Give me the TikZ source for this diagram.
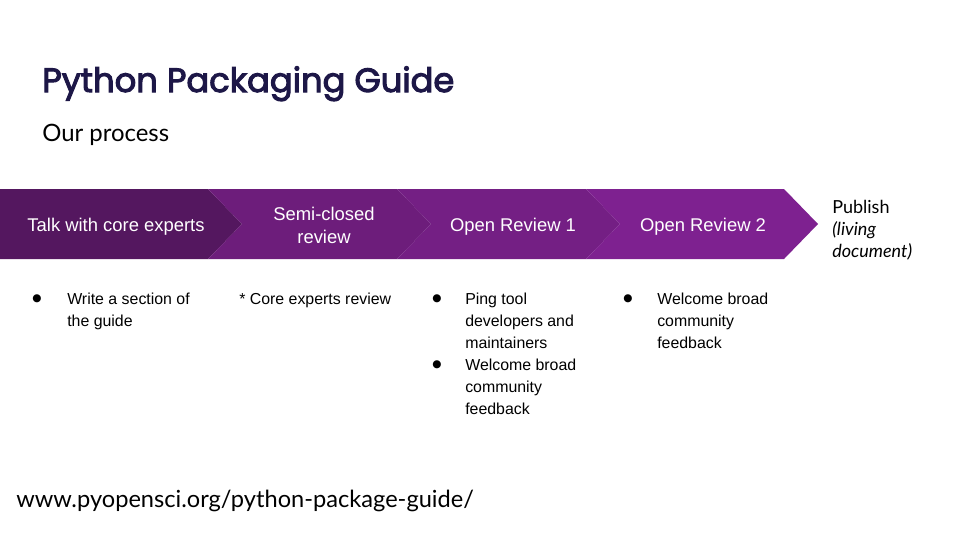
\documentclass[tikz,border=0pt]{standalone}
\usepackage{fontspec}
\setmainfont{Lato}
\newfontfamily\bodyfont{Liberation Sans}
\newfontfamily\dotfont{DejaVu Sans}
\newfontfamily\titlefont{Poppins}[FakeBold=3]
\definecolor{titleblue}{HTML}{1D1747}
\definecolor{stepA}{HTML}{54175F}
\definecolor{stepB}{HTML}{6D1D7B}
\definecolor{stepC}{HTML}{741F84}
\definecolor{stepD}{HTML}{7E2190}
\begin{document}
\begin{tikzpicture}[
  x=0.025cm, y=-0.025cm,
  steptext/.style={text=white, align=center, inner sep=0pt, font=\bodyfont\fontsize{13.1}{16.3}\selectfont},
  itemtext/.style={anchor=north west, align=left, inner sep=0pt, font=\bodyfont\fontsize{11.3}{15.6}\selectfont},
  dot/.style={inner sep=0pt, font=\dotfont\fontsize{7.5}{8}\selectfont}
]
\useasboundingbox[fill=white] (0,0) rectangle (960,540);
% heading
\node[anchor=base west, inner sep=0pt, text=titleblue, font=\titlefont\fontsize{24}{28}\selectfont] (title) at (42,92) {Python Packaging Guide};
\node[anchor=base west, inner sep=0pt, font=\fontsize{17}{20}\selectfont] (sub) at (42,141) {Our process};
% chevrons
\fill[stepA] (0,189) -- (208,189) -- (242,224) -- (208,259) -- (0,259) -- cycle;
\fill[stepB] (208,189) -- (397,189) -- (431,224) -- (397,259) -- (208,259) -- (242,224) -- cycle;
\fill[stepC] (397,189) -- (586,189) -- (620,224) -- (586,259) -- (397,259) -- (431,224) -- cycle;
\fill[stepD] (586,189) -- (784,189) -- (818,224) -- (784,259) -- (586,259) -- (620,224) -- cycle;
\node[steptext] (talk) at (116,227) {Talk with core experts};
\node[steptext] (semi) at (324,225) {Semi-closed\\review};
\node[steptext] (open1) at (513,227) {Open Review 1};
\node[steptext] (open2) at (703,227) {Open Review 2};
\node[anchor=north west, align=left, inner sep=0pt, font=\fontsize{12.8}{15.6}\selectfont] (publish) at (832,200) {Publish\\\textit{(living}\\\textit{document)}};
% notes under the steps
\node[dot] (dotA) at (37,299) {●};
\node[itemtext] (noteA) at (67,293) {Write a section of\\the guide};
\node[itemtext] (noteB) at (239,293) {* Core experts review};
\node[dot] (dotC) at (437,299) {●};
\node[itemtext] (noteC) at (465,293) {Ping tool\\developers and\\maintainers};
\node[dot] (dotD) at (437,365) {●};
\node[itemtext] (noteD) at (465,359) {Welcome broad\\community\\feedback};
\node[dot] (dotE) at (628,299) {●};
\node[itemtext] (noteE) at (657,293) {Welcome broad\\community\\feedback};
% link
\node[anchor=base west, inner sep=0pt, font=\fontsize{16.8}{20}\selectfont] (url) at (16,507) {www.pyopensci.org/python-package-guide/};
\end{tikzpicture}
\end{document}
